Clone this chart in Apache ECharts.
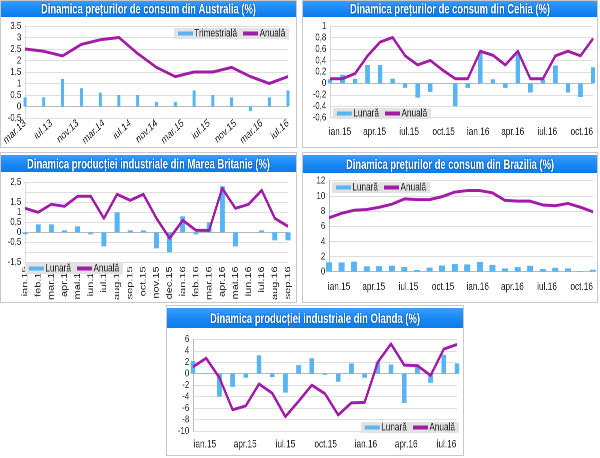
<!DOCTYPE html>
<html><head><meta charset="utf-8">
<script src="https://cdn.jsdelivr.net/npm/echarts@6/dist/echarts.min.js"></script>
<style>
html,body{margin:0;padding:0;background:#fff;}
body{width:600px;height:458px;position:relative;overflow:hidden;}
.brd{position:absolute;box-sizing:border-box;border:1px solid #c8c8c8;pointer-events:none;}
.chart{position:absolute;transform-origin:0 0;}
</style></head><body>
<script>
// ---------------- DATA ----------------
// Australia (quarterly)
const auPeriods = ['mar.13','iun.13','sep.13','dec.13','mar.14','iun.14','sep.14','dec.14','mar.15','iun.15','sep.15','dec.15','mar.16','iun.16','sep.16'];
const auTickLabels = ['mar.13','iul.13','nov.13','mar.14','iul.14','nov.14','mar.15','iul.15','nov.15','mar.16','iul.16'];
const auQuarterly = [0.4,0.4,1.2,0.8,0.6,0.5,0.5,0.2,0.2,0.7,0.5,0.4,-0.2,0.4,0.7];
const auAnnual = [2.5,2.4,2.2,2.7,2.9,3.0,2.3,1.7,1.3,1.5,1.5,1.7,1.3,1.0,1.3];

// Cehia (monthly)
const czMonths = ['ian.15','feb.15','mar.15','apr.15','mai.15','iun.15','iul.15','aug.15','sep.15','oct.15','nov.15','dec.15','ian.16','feb.16','mar.16','apr.16','mai.16','iun.16','iul.16','aug.16','sep.16','oct.16'];
const czTickLabels = ['ian.15','apr.15','iul.15','oct.15','ian.16','apr.16','iul.16','oct.16'];
const czMonthly = [0.07,0.15,0.08,0.32,0.32,0.08,-0.08,-0.25,-0.15,0,-0.4,-0.08,0.55,0.07,-0.08,0.55,-0.16,0.07,0.31,-0.16,-0.24,0.28];
const czAnnual = [0.08,0.08,0.17,0.48,0.72,0.8,0.48,0.32,0.4,0.23,0.08,0.08,0.56,0.49,0.32,0.56,0.08,0.08,0.48,0.56,0.48,0.78];

// Marea Britanie (monthly)
const ukMonths = ['ian.15','feb.15','mar.15','apr.15','mai.15','iun.15','iul.15','aug.15','sep.15','oct.15','nov.15','dec.15','ian.16','feb.16','mar.16','apr.16','mai.16','iun.16','iul.16','aug.16','sep.16'];
const ukMonthly = [-0.1,0.4,0.4,0.1,0.3,-0.1,-0.7,1.0,0.1,0.1,-0.8,-1.0,0.8,-0.1,0.5,2.3,-0.7,0,0.1,-0.4,-0.4];
const ukAnnual = [1.2,1.0,1.4,1.3,1.8,1.8,0.7,1.9,1.6,1.9,0.7,-0.3,0.6,0.1,0.1,2.2,1.2,1.4,2.1,0.7,0.3];

// Brazilia (monthly)
const brMonths = czMonths;
const brTickLabels = ['ian.15','apr.15','iul.15','oct.15','ian.16','apr.16','iul.16','oct.16'];
const brMonthly = [1.24,1.22,1.32,0.71,0.74,0.79,0.62,0.22,0.54,0.82,1.01,0.96,1.27,0.90,0.43,0.61,0.78,0.35,0.52,0.44,0.08,0.26];
const brAnnual = [7.1,7.7,8.1,8.2,8.5,8.9,9.6,9.5,9.5,9.9,10.5,10.7,10.7,10.4,9.4,9.3,9.3,8.8,8.7,9.0,8.5,7.9];

// Olanda (monthly)
const nlMonths = ['ian.15','feb.15','mar.15','apr.15','mai.15','iun.15','iul.15','aug.15','sep.15','oct.15','nov.15','dec.15','ian.16','feb.16','mar.16','apr.16','mai.16','iun.16','iul.16','aug.16','sep.16'];
const nlTickLabels = ['ian.15','apr.15','iul.15','oct.15','ian.16','apr.16','iul.16'];
const nlMonthly = [2.2,0.1,-4.0,-2.3,-0.7,3.2,-0.6,-3.3,1.5,2.7,-0.2,-1.4,1.8,-0.7,2.1,1.6,-5.1,1.6,-1.6,3.3,1.8];
const nlAnnual = [1.2,2.7,-0.7,-6.3,-5.6,-1.8,-3.4,-7.5,-4.8,-2.0,-3.5,-7.2,-5.1,-5.0,2.0,5.2,1.5,1.4,-0.3,4.3,5.1];

// ---------------- LAYOUT / STYLE ----------------
const S = 0.75;               // horizontal squeeze of the original picture
const BAR = '#58b5f3';
const LINE = '#a31ca8';
const FONT = '"Liberation Sans", Arial, sans-serif';

function fmtNum(v){ return String(+(+v).toFixed(2)).replace('.', ','); }

function measure(text, font){
  const c = document.createElement('canvas').getContext('2d');
  c.font = font; return c.measureText(text).width;
}

function build(cfg){
  const Wd = cfg.Wp / S;
  const el = document.createElement('div');
  el.className = 'chart';
  el.style.cssText += `left:${cfg.L}px;top:${cfg.T}px;width:${Wd}px;height:${cfg.H}px;transform:scaleX(${S});`;
  document.body.appendChild(el);
  const b = document.createElement('div');
  b.className = 'brd';
  b.style.cssText += `left:${cfg.L}px;top:${cfg.T}px;width:${cfg.Wp}px;height:${cfg.H}px;`;
  document.body.appendChild(b);

  const chart = echarts.init(el, null, {renderer:'canvas', devicePixelRatio:2});
  const gx = x => (x - cfg.L) / S;
  const gy = y => y - cfg.T;
  const n = cfg.bars.length;
  const idx = cfg.bars.map((_, i) => i);
  const titleFont = 'bold 14px ' + FONT;
  const tScale = (cfg.titleW / S) / measure(cfg.title, titleFont);
  const labelAt = v => {
    let best = 0, d = 1e9;
    cfg.tickPos.forEach((p, k) => { if (Math.abs(p - v) < d) { d = Math.abs(p - v); best = k; } });
    return cfg.tickLabels[best];
  };
  const grad = new echarts.graphic.LinearGradient(0,0,0,1,[
    {offset:0,color:'#3d9fff'},{offset:0.5,color:'#1a8af7'},{offset:1,color:'#0d7ce8'}]);

  const opt = {
    animation:false,
    graphic:[
      {type:'rect', shape:{x:0, y:gy(cfg.barTop), width:Wd, height:cfg.barH}, style:{fill:grad}},
      {type:'text', x:Wd/2, y:gy(cfg.barTop)+cfg.barH/2+1, scaleX:tScale,
       style:{text:cfg.title, fill:'#fff', font:titleFont, align:'center', verticalAlign:'middle',
              textAlign:'center', textVerticalAlign:'middle',
              textShadowColor:'rgba(0,40,110,0.8)', textShadowBlur:2}}
    ],
    grid:{left:gx(cfg.px0), width:(cfg.px1-cfg.px0)/S, top:gy(cfg.py0), height:cfg.py1-cfg.py0, containLabel:false},
    legend:Object.assign({
      data:[{name:cfg.barName, icon:'rect', itemStyle:{color:BAR}}, {name:'Anuală', icon:'rect', itemStyle:{color:LINE}}],
      orient:'horizontal', width:400,
      itemWidth:20, itemHeight:4, itemGap:8, padding:[0,5],
      backgroundColor:'#e3e3e3', borderRadius:0,
      textStyle:{fontSize:11, lineHeight:11, color:'#222', fontFamily:FONT, padding:[0,0,0,-3]}
    }, cfg.legend),
    xAxis:{type:'value', min:0, max:n-1,
      axisLine:{show:false}, axisTick:{show:false}, splitLine:{show:false},
      axisLabel:{customValues:cfg.tickPos, formatter:labelAt, rotate:cfg.rotate||0,
        margin:cfg.margin, fontSize:11, color:'#222', fontFamily:FONT, hideOverlap:false}},
    yAxis:{type:'value', min:cfg.yMin, max:cfg.yMax, interval:cfg.yInt,
      axisLine:{show:true, lineStyle:{color:'#b8b8b8'}}, axisTick:{show:false},
      splitLine:{lineStyle:{color:'#dedede'}},
      axisLabel:{formatter:fmtNum, fontSize:10.5, lineHeight:9, color:'#222', fontFamily:FONT, margin:5,
        showMinLabel:true, showMaxLabel:true, hideOverlap:false}},
    series:[
      {type:'bar', name:cfg.barName, data:idx.map(i=>[i,cfg.bars[i]]), barWidth:cfg.bw/S,
       itemStyle:{color:BAR}, z:2},
      {type:'line', name:'Anuală', data:idx.map(i=>[i,cfg.line[i]]), symbol:'none', z:3,
       lineStyle:{color:LINE, width:3, join:'round'}, itemStyle:{color:LINE},
       markLine:{silent:true, symbol:'none', label:{show:false}, z:1,
         lineStyle:{color:'#b8b8b8', width:1, type:'solid'}, data:[{yAxis:0}]}}
    ]
  };
  chart.setOption(opt);
}

function evenly(a, b, k){ const out=[]; for(let i=0;i<k;i++) out.push(a + (b-a)*i/(k-1)); return out; }

// Australia
build({L:0, T:0, Wp:297, H:148, barTop:0, barH:17,
  title:'Dinamica prețurilor de consum din Australia (%)', titleW:215,
  px0:25, px1:288, py0:26, py1:118, yMin:-0.5, yMax:3.5, yInt:0.5,
  bars:auQuarterly, line:auAnnual, barName:'Trimestrială', bw:3,
  tickPos:evenly(0, auPeriods.length-1, auTickLabels.length), tickLabels:auTickLabels, rotate:36, margin:4,
  legend:{right:(297-289)/S, top:28, width:null}});

// Cehia
build({L:302, T:0, Wp:296, H:148, barTop:0, barH:17,
  title:'Dinamica prețurilor de consum din Cehia (%)', titleW:200,
  px0:330, px1:593, py0:26, py1:117.7, yMin:-0.6, yMax:1, yInt:0.2,
  bars:czMonthly, line:czAnnual, barName:'Lunară', bw:4.5,
  tickPos:evenly(0.8, 20.1, czTickLabels.length), tickLabels:czTickLabels, margin:9,
  legend:{left:(333-302)/S, top:108}});

// Marea Britanie
build({L:0, T:152, Wp:297, H:151, barTop:155, barH:17,
  title:'Dinamica producției industriale din Marea Britanie (%)', titleW:243,
  px0:25, px1:288, py0:182.3, py1:272.3, yMin:-1.5, yMax:2.5, yInt:0.5,
  bars:ukMonthly, line:ukAnnual, barName:'Lunară', bw:5,
  tickPos:ukMonths.map((_,i)=>i), tickLabels:ukMonths, rotate:90, margin:4,
  legend:{left:25/S, top:263-152}});

// Brazilia
build({L:302, T:152, Wp:296, H:151, barTop:155, barH:18,
  title:'Dinamica prețurilor de consum din Brazilia (%)', titleW:208,
  px0:329, px1:593, py0:180.7, py1:271.7, yMin:0, yMax:12, yInt:2,
  bars:brMonthly, line:brAnnual, barName:'Lunară', bw:6,
  tickPos:evenly(0.8, 20.1, brTickLabels.length), tickLabels:brTickLabels, margin:10,
  legend:{left:(332-302)/S, top:182-152}});

// Olanda
build({L:166, T:305, Wp:298, H:151, barTop:308, barH:20,
  title:'Dinamica producției industriale din Olanda (%)', titleW:210,
  px0:193, px1:457, py0:339.3, py1:431, yMin:-10, yMax:6, yInt:2,
  bars:nlMonthly, line:nlAnnual, barName:'Lunară', bw:4.7,
  tickPos:evenly(0.9, 19.2, nlTickLabels.length), tickLabels:nlTickLabels, margin:8,
  legend:{right:(464-459)/S, top:422-305, width:null}});
</script>
</body></html>
